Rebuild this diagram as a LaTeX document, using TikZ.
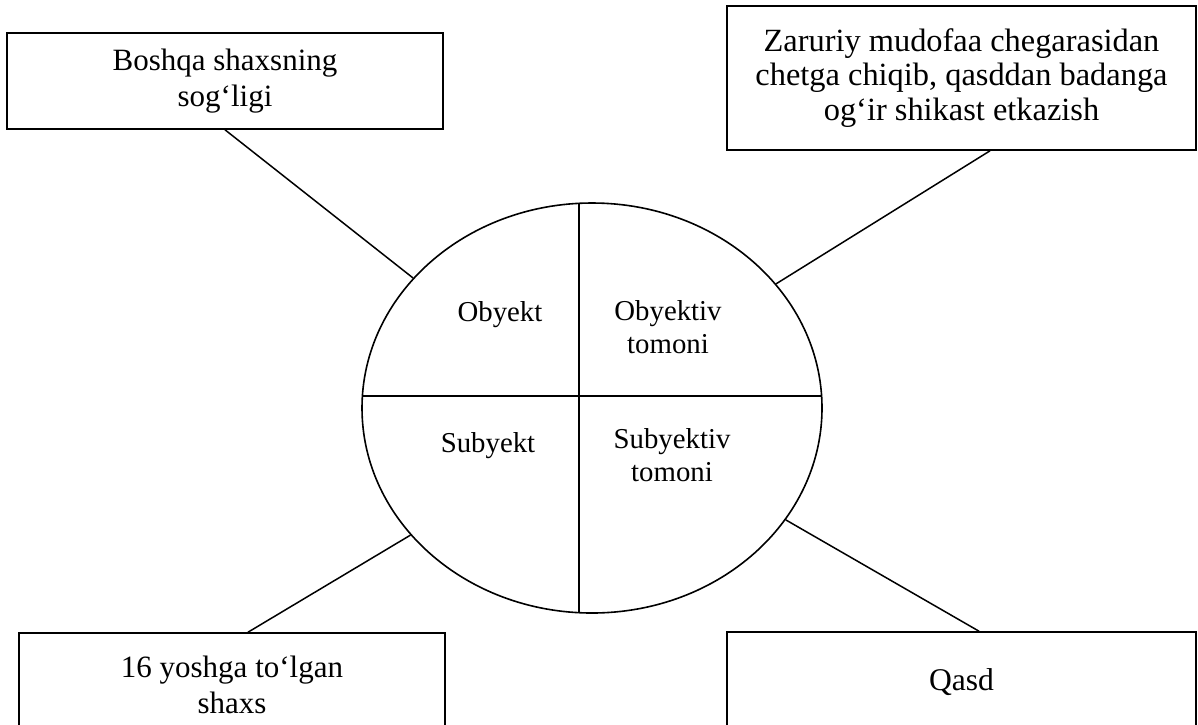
\documentclass[tikz,border=0pt]{standalone}
\usepackage{fontspec}
\setmainfont{Liberation Serif}
\usetikzlibrary{shapes.geometric}
\begin{document}
\begin{tikzpicture}[x=1pt,y=-1pt,
  box/.style={draw, line width=1.6pt, rectangle, inner sep=0pt, align=center,
    font=\fontsize{31}{36}\selectfont},
  lbl/.style={inner sep=0pt, align=center, font=\fontsize{28.8}{33}\selectfont},
  conn/.style={line width=1.5pt},
  oval/.style={draw, ellipse, line width=1.6pt, inner sep=0pt}]
\useasboundingbox (0,0) rectangle (1198,724);
\clip (0,0) rectangle (1198,724);
% boxes
\node[box, minimum width=436pt, minimum height=96pt] (tl) at (225,81) {Boshqa shaxsning\\sog‘ligi};
\node[box, minimum width=469pt, minimum height=144pt, font=\fontsize{32.4}{34.5}\selectfont] (tr) at (961.5,78) {Zaruriy mudofaa chegarasidan\\chetga chiqib, qasddan badanga\\og‘ir shikast etkazish};
\node[box, minimum width=426pt, minimum height=104pt] (bl) at (232,685) {16 yoshga to‘lgan\\shaxs};
\node[box, minimum width=469pt, minimum height=100pt, font=\fontsize{31.6}{36}\selectfont] (br) at (961.5,682) {Qasd};
% ellipse
\node[oval, minimum width=460pt, minimum height=410pt] (el) at (592,408) {};
\begin{scope}
  \clip (592,408) ellipse [x radius=230pt, y radius=205pt];
  \draw[line width=1.6pt] (579,150) -- (579,700);
  \draw[line width=1.6pt] (300,396) -- (900,396);
\end{scope}
% labels
\node[lbl] (ob) at (500,315) {Obyekt};
\node[lbl] (obt) at (668,327) {Obyektiv\\tomoni};
\node[lbl] (sb) at (488,446) {Subyekt};
\node[lbl] (sbt) at (672,455) {Subyektiv\\tomoni};
% connectors
\draw[conn] (tl.south) -- (el.144.4);
\draw[conn] ([xshift=28.5pt]tr.south) -- (el.34.3);
\draw[conn] ([xshift=16pt]bl.north) -- (el.215.8);
\draw[conn] ([xshift=17.5pt]br.north) -- (el.330.2);
\end{tikzpicture}
\end{document}
